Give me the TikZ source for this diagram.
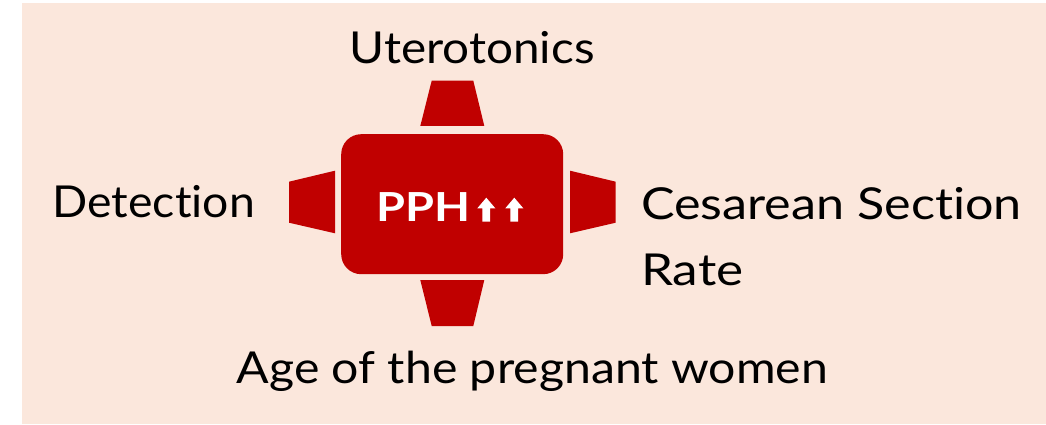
\documentclass[tikz,border=0pt]{standalone}
\usepackage{fontspec}
\setmainfont{Lato}[Ligatures=NoCommon]
\definecolor{bgpeach}{HTML}{FBE7DC}
\definecolor{pphred}{HTML}{C00000}
\tikzset{
  lbl/.style={inner sep=0pt, font=\fontsize{44}{66}\selectfont, text=black},
  redpart/.style={fill=pphred, draw=none},
  uparrow/.pic={
    \fill[white] (0,10.6) -- (9,0) -- (18,10.6) -- (12.7,10.6) -- (12.7,24) -- (5,24) -- (5,10.6) -- cycle;
  }
}
\begin{document}
\begin{tikzpicture}[x=1pt,y=-1pt]
\useasboundingbox (0,0) rectangle (1046,425);
\fill[bgpeach] (22,3) rectangle (1046,423.5);
% central box
\node[redpart, rounded corners=20pt, minimum width=222pt, minimum height=140pt, inner sep=0pt] (pph) at (452.2,204.2) {};
\node[inner sep=0pt, anchor=base west, text=white, font=\fontsize{40}{48}\selectfont\bfseries] (pphtext) at (376.5,221.7) {\scalebox{1.17}[1]{PPH}};
\pic at (477.3,197.7) {uparrow};
\pic at (505.3,197.7) {uparrow};
% trapezoids
\fill[redpart] (431.7,80.7) -- (473.3,80.7) -- (484.3,126) -- (420.3,126) -- cycle;
\fill[redpart] (420.3,280) -- (484.3,280) -- (473.3,326) -- (431.7,326) -- cycle;
\fill[redpart] (289,181.7) -- (335,170.7) -- (335,233.3) -- (289,222.7) -- cycle;
\fill[redpart] (570,170.7) -- (615.7,181.7) -- (615.7,222.7) -- (570,233.3) -- cycle;
% labels
\node[lbl, anchor=base west] (uter) at (349.5,63.3) {\scalebox{1.083}[1]{Uterotonics}};
\node[lbl, anchor=base west] (detect) at (52.5,217.7) {\scalebox{1.053}[1]{Detection}};
\node[lbl, anchor=north west, align=left] (cesar) at (641,187.5) {\scalebox{1.143}[1]{Cesarean Section}\\\scalebox{1.165}[1]{Rate}};
\node[lbl, anchor=base west] (age) at (236.5,383.3) {\scalebox{1.096}[1]{Age of the pregnant women}};
\end{tikzpicture}
\end{document}
